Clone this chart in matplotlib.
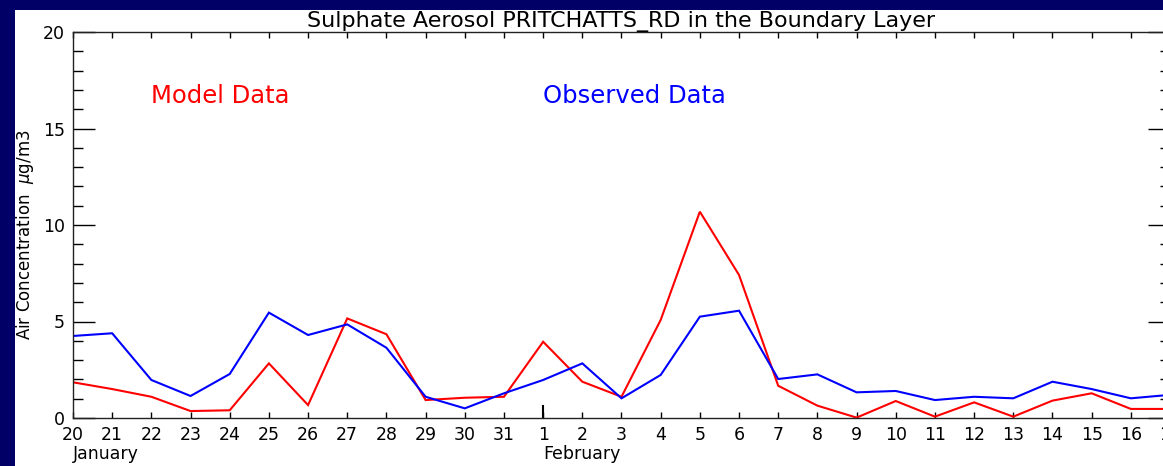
import matplotlib
matplotlib.use("Agg")
import matplotlib.pyplot as plt
import matplotlib.transforms as mtransforms
from matplotlib.patches import Rectangle
from matplotlib.ticker import MultipleLocator

# days shown on the x axis (20 Jan .. 17 Feb)
day_labels = ['20', '21', '22', '23', '24', '25', '26', '27', '28', '29', '30', '31',
              '1', '2', '3', '4', '5', '6', '7', '8', '9', '10', '11', '12', '13',
              '14', '15', '16', '17']
month_names = ['January', 'February']
month_start = [0, 12]

model = [1.85, 1.50, 1.10, 0.36, 0.40, 2.83, 0.67, 5.16, 4.34, 0.93, 1.05, 1.10,
         3.95, 1.88, 1.10, 5.08, 10.69, 7.41, 1.67, 0.64, 0.02, 0.88, 0.07, 0.81,
         0.07, 0.90, 1.28, 0.47, 0.47]
observed = [4.25, 4.39, 1.97, 1.14, 2.28, 5.46, 4.30, 4.85, 3.64, 1.10, 0.50, 1.28,
            1.97, 2.83, 1.02, 2.23, 5.25, 5.56, 2.02, 2.26, 1.33, 1.40, 0.93, 1.10,
            1.02, 1.88, 1.50, 1.02, 1.20]

x = list(range(len(day_labels)))

navy = '#000066'
fig = plt.figure(figsize=(11.63, 4.66), dpi=100, facecolor=navy)
fig.patches.append(Rectangle((15 / 1163, 0), 1, (466 - 10) / 466,
                             transform=fig.transFigure, facecolor='white',
                             edgecolor='none', zorder=-10))

ax = fig.add_axes([73 / 1163, 48 / 466, 1097 / 1163, 386 / 466])
ax.set_facecolor('none')
ax.set_xlim(0, len(day_labels) - 1)
ax.set_ylim(0, 20)

ax.plot(x, model, color='#ff0000', lw=1.5, solid_joinstyle='miter')
ax.plot(x, observed, color='#0000ff', lw=1.5, solid_joinstyle='miter')

# ticks
ax.set_xticks(x)
ax.set_xticklabels(day_labels, fontsize=12.5)
ax.yaxis.set_major_locator(MultipleLocator(5))
ax.yaxis.set_minor_locator(MultipleLocator(1))
ax.tick_params(axis='y', which='major', direction='in', length=16, width=1,
               left=True, right=True, labelsize=12.5, pad=6)
ax.tick_params(axis='y', which='minor', direction='in', length=7, width=1,
               left=True, right=True)
ax.tick_params(axis='x', which='major', direction='in', length=4.5, width=1,
               bottom=True, top=True, pad=6)
# longer tick at the start of each month
for m in month_start[1:]:
    ax.plot([m, m], [0, 0.6], color='black', lw=1.5, clip_on=False)

for s in ax.spines.values():
    s.set_linewidth(1)
    s.set_color('#222222')

trans = mtransforms.blended_transform_factory(ax.transData, ax.transAxes)
for name, pos in zip(month_names, month_start):
    ax.text(pos, -0.07, name, transform=trans, ha='left', va='top', fontsize=12.5)

ax.text(2, 16.7, 'Model Data', color='#ff0000', fontsize=17.5, va='center')
ax.text(12, 16.7, 'Observed Data', color='#0000ff', fontsize=17.5, va='center')

fig.text(0.534, 1 - 26.5 / 466, 'Sulphate Aerosol PRITCHATTS_RD in the Boundary Layer',
         ha='center', va='baseline', fontsize=16)
fig.text(25 / 1163, 0.496, 'Air Concentration  $\\mu$g/m3', rotation=90,
         ha='center', va='center', fontsize=12)

fig.savefig('out.png', dpi=100, facecolor=navy)
